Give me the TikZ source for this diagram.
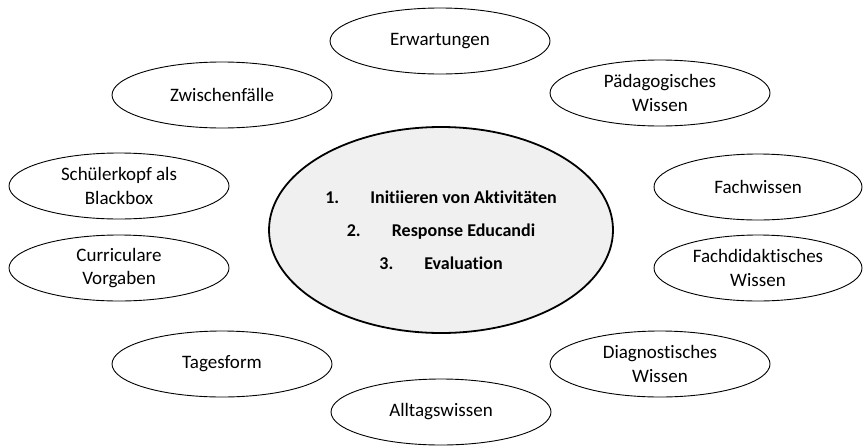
\documentclass[tikz,border=0pt]{standalone}
\usepackage{fontspec}
\setmainfont[Ligatures={NoCommon}]{Carlito}
\usetikzlibrary{shapes.geometric}
\definecolor{centerfill}{RGB}{240,240,240}
\tikzset{
  outer/.style={ellipse, draw=black, line width=0.9pt, minimum width=220pt, minimum height=66pt, inner sep=0pt, align=center, font=\fontsize{19}{23.5}\selectfont},
  core/.style={ellipse, draw=black, line width=1.8pt, fill=centerfill, minimum width=344pt, minimum height=206pt, inner sep=0pt, align=center, font=\bfseries\fontsize{18}{33}\selectfont}
}
\newcommand{\numitem}[2]{\makebox[45pt][l]{#1}#2}
\begin{document}
\begin{tikzpicture}[x=1pt,y=-1pt]
\useasboundingbox (0,0) rectangle (864,445);
\node[core] (c) at (441,230) {\numitem{1.}{Initiieren von Aktivitäten}\\ \numitem{2.}{Response Educandi}\\ \numitem{3.}{Evaluation}};
\node[outer] (erw) at (440,41) {Erwartungen};
\node[outer] (zw) at (222,95) {Zwischenfälle};
\node[outer] (paed) at (660,93) {Pädagogisches\\Wissen};
\node[outer] (sk) at (119,186) {Schülerkopf als\\Blackbox};
\node[outer, minimum width=208pt] (fw) at (758,187) {Fachwissen};
\node[outer] (cv) at (119,268) {Curriculare\\Vorgaben};
\node[outer, minimum width=208pt] (fd) at (758,268) {Fachdidaktisches\\Wissen};
\node[outer] (tf) at (222,364) {Tagesform};
\node[outer] (dw) at (660,364) {Diagnostisches\\Wissen};
\node[outer] (aw) at (441,412) {Alltagswissen};
\end{tikzpicture}
\end{document}
